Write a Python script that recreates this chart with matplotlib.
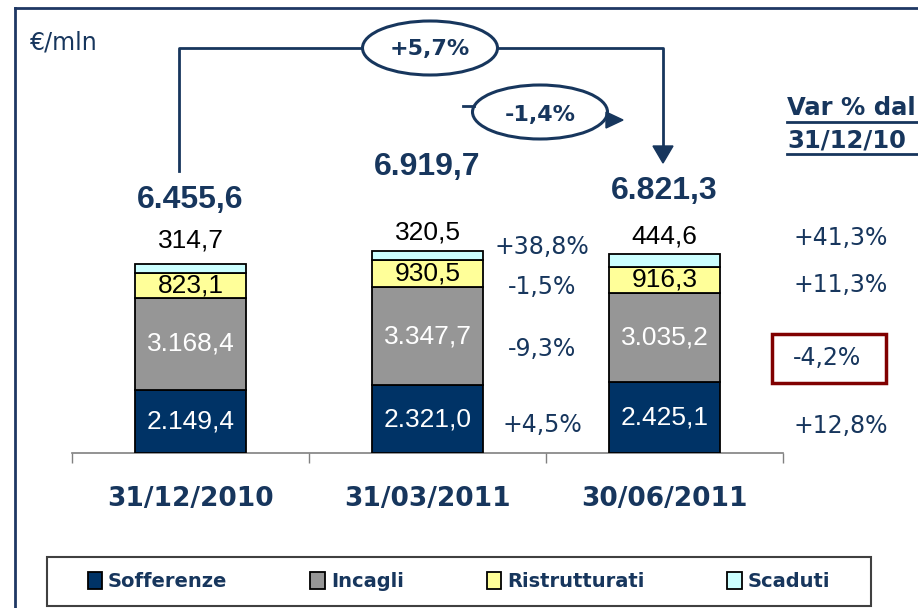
import numpy as np
import matplotlib.pyplot as plt
from matplotlib.patches import Ellipse, Rectangle, Polygon

# dati (€/mln)
dates = ['31/12/2010', '31/03/2011', '30/06/2011']
sofferenze = [2149.4, 2321.0, 2425.1]
incagli = [3168.4, 3347.7, 3035.2]
ristrutturati = [823.1, 930.5, 916.3]
scaduti = [314.7, 320.5, 444.6]
totali = [6455.6, 6919.7, 6821.3]

# variazioni % (ordine: sofferenze, incagli, ristrutturati, scaduti)
var_trim = ['+4,5%', '-9,3%', '-1,5%', '+38,8%']   # 31/03/11 -> 30/06/11
var_dic = ['+12,8%', '-4,2%', '+11,3%', '+41,3%']   # dal 31/12/10
var_tot = ['+5,7%', '-1,4%']

NAVY = '#17365D'
colors = ['#003366', '#969696', '#FFFF99', '#CCFFFF']
names = ['Sofferenze', 'Incagli', 'Ristrutturati', 'Scaduti']


def it_fmt(v):
    s = f'{v:,.1f}'
    return s.replace(',', '#').replace('.', ',').replace('#', '.')


W, H = 918, 608
fig = plt.figure(figsize=(W / 100, H / 100), dpi=100)

# asse principale con le barre impilate
ax = fig.add_axes([72 / W, (H - 453) / H, (783 - 72) / W, 323 / H])
x = np.arange(len(dates))
series = [sofferenze, incagli, ristrutturati, scaduti]
bottom = np.zeros(len(dates))
conts = []
for vals, c, n in zip(series, colors, names):
    bc = ax.bar(x, vals, width=0.47, bottom=bottom, color=c, edgecolor='black',
                linewidth=1.3, label=n, zorder=3)
    conts.append(bc)
    bottom += np.array(vals)

num_fam = ['Liberation Sans', 'DejaVu Sans']
lab_font = dict(family=num_fam, fontsize=19)
ax.bar_label(conts[0], labels=[it_fmt(v) for v in sofferenze], label_type='center',
             color='white', **lab_font)
ax.bar_label(conts[1], labels=[it_fmt(v) for v in incagli], label_type='center',
             color='white', **lab_font)
ax.bar_label(conts[2], labels=[it_fmt(v) for v in ristrutturati], label_type='center',
             color='black', **lab_font)

scad_gap = [17, 13, 12]  # punti sopra la barra
tot_gap = [46, 60, 45]
for i in range(len(dates)):
    ax.annotate(it_fmt(scaduti[i]), (x[i], bottom[i]), xytext=(0, scad_gap[i]),
                textcoords='offset points', ha='center', va='center',
                color='black', **lab_font)
    ax.annotate(it_fmt(totali[i]), (x[i], bottom[i]), xytext=(0, tot_gap[i]),
                textcoords='offset points', ha='center', va='center',
                fontsize=23, fontweight='bold', color=NAVY, family=num_fam)

ax.set_xlim(-0.5, 2.5)
ax.set_ylim(0, 11050)
for s in ['top', 'right', 'left']:
    ax.spines[s].set_visible(False)
ax.spines['bottom'].set_color('#808080')
ax.spines['bottom'].set_linewidth(1.2)
ax.set_yticks([])
ax.set_xticks(x)
ax.set_xticklabels(dates, fontsize=19, fontweight='bold', color=NAVY)
ax.set_xticks([-0.5, 0.5, 1.5, 2.5], minor=True)
ax.tick_params(axis='x', which='major', length=0, pad=24)
ax.tick_params(axis='x', which='minor', length=7, width=1, color='#808080')
ax.patch.set_visible(False)

# livello in pixel per cornice, frecce e note
ov = fig.add_axes([0, 0, 1, 1])
ov.set_xlim(0, W)
ov.set_ylim(H, 0)
ov.axis('off')

ov.plot([15, W], [8, 8], color='#1F3864', lw=2)
ov.plot([15, 15], [8, H], color='#1F3864', lw=2)

ov.text(30, 42, '€/mln', fontsize=17, color=NAVY, va='center', ha='left')

# freccia 31/12/10 -> 30/06/11
ov.plot([179, 179, 362], [171, 48, 48], color=NAVY, lw=2)
ov.plot([497, 663, 663], [48, 48, 148], color=NAVY, lw=2)
ov.add_patch(Polygon([[653, 146], [673, 146], [663, 163]], closed=True, color=NAVY))
ov.add_patch(Ellipse((430, 48), 135, 54, fill=False, ec=NAVY, lw=2.2))
ov.text(430, 49, var_tot[0], ha='center', va='center', fontsize=16,
        fontweight='bold', color=NAVY)

# freccia 31/03/11 -> 30/06/11
ov.plot([463, 474], [106, 106], color=NAVY, lw=2)
ov.add_patch(Ellipse((540, 112), 135, 54, fill=False, ec=NAVY, lw=2.2))
ov.add_patch(Polygon([[606, 112], [606, 128], [623, 120]], closed=True, color=NAVY))
ov.text(540, 115, var_tot[1], ha='center', va='center', fontsize=16,
        fontweight='bold', color=NAVY)

# variazioni trimestrali
y_mid = [425, 349, 287, 247]
for yy, s in zip(y_mid, var_trim):
    ov.text(542, yy, s, ha='center', va='center', fontsize=17, color=NAVY)

# variazioni dal 31/12/10
ov.text(787, 108, 'Var % dal', ha='left', va='center', fontsize=17.5,
        fontweight='bold', color=NAVY)
ov.text(787, 141, '31/12/10', ha='left', va='center', fontsize=17.5,
        fontweight='bold', color=NAVY)
ov.plot([787, W], [122, 122], color=NAVY, lw=2)
ov.plot([787, W], [154, 154], color=NAVY, lw=2)

y_right = [426, 358, 285, 238]
for yy, s in zip(y_right, var_dic):
    ov.text(793, yy, s, ha='left', va='center', fontsize=17, color=NAVY)
ov.add_patch(Rectangle((772, 334), 114, 49, fill=False, ec='#800000', lw=2.5))

# legenda
ov.add_patch(Rectangle((47, 557), 824, 49, fill=False, ec='#404040', lw=1.5))
leg = fig.legend(handles=conts, labels=names, ncol=4, mode='expand',
                 loc='center', bbox_to_anchor=(74 / W, 2 / H, 770 / W, 49 / H),
                 frameon=False, borderpad=0.2, handlelength=0.75, handleheight=1.0,
                 handletextpad=0.3, prop=dict(size=14, weight='bold'))
for t in leg.get_texts():
    t.set_color(NAVY)

fig.savefig('out.png', dpi=100)
